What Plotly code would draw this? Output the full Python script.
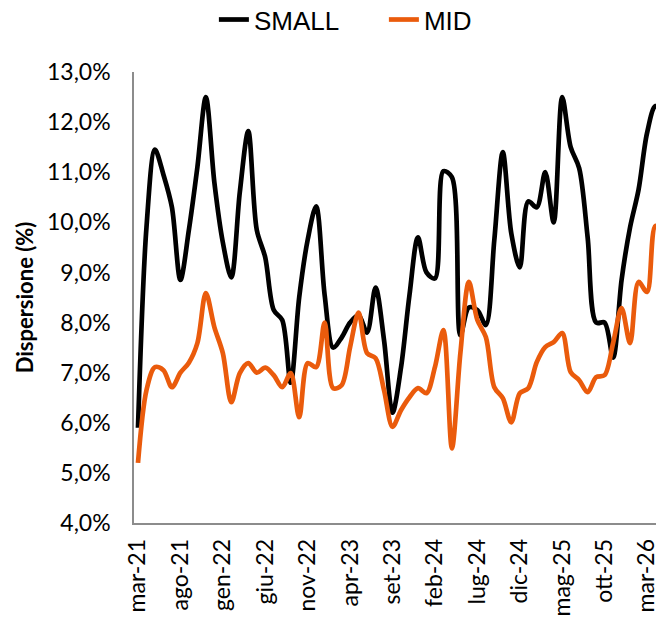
import plotly.graph_objects as go

# ---- data -------------------------------------------------------------
month_names = ["gen", "feb", "mar", "apr", "mag", "giu",
               "lug", "ago", "set", "ott", "nov", "dic"]
months = []
for yr in range(21, 27):
    for mi, mn in enumerate(month_names):
        if (yr == 21 and mi < 2) or (yr == 26 and mi > 4):
            continue
        months.append(f"{mn}-{yr}")

small = [5.9, 9.9, 11.45, 10.95, 10.3, 8.85, 9.85, 11.1, 12.5, 10.8,
         9.6, 8.9, 10.6, 11.82, 9.85, 9.3, 8.25, 8.05, 6.8, 8.5,
         9.65, 10.32, 8.55, 7.5, 7.7, 8.0, 8.15, 7.8, 8.7, 7.65,
         6.2, 7.1, 8.55, 9.7, 9.0, 8.88, 11.02, 10.9, 7.75, 8.3,
         8.25, 7.95, 9.65, 11.4, 9.78, 9.1, 10.42, 10.3, 11.0, 10.0,
         12.5, 11.5, 11.08, 9.7, 8.0, 8.0, 7.3, 8.85, 9.9, 10.65,
         11.78, 12.32, 12.2]

mid = [5.2, 6.65, 7.11, 7.05, 6.71, 7.0, 7.2, 7.59, 8.59, 7.91,
       7.39, 6.41, 6.99, 7.19, 7.0, 7.1, 6.95, 6.71, 6.99, 6.11,
       7.19, 7.11, 8.0, 6.69, 6.75, 7.51, 8.2, 7.39, 7.29, 6.65,
       5.92, 6.25, 6.51, 6.69, 6.59, 7.11, 7.85, 5.49, 7.39, 8.81,
       8.05, 7.71, 6.71, 6.49, 6.01, 6.59, 6.69, 7.21, 7.51, 7.61,
       7.79, 7.01, 6.85, 6.61, 6.91, 6.95, 7.59, 8.29, 7.59, 8.81,
       8.61, 9.93, 9.8]

tick_labels = months[::5]
y_ticks = [4, 5, 6, 7, 8, 9, 10, 11, 12, 13]
y_tick_text = [f"{v:.1f}".replace(".", ",") + "%" for v in y_ticks]

# ---- figure -----------------------------------------------------------
fig = go.Figure()
fig.add_trace(go.Scatter(x=months, y=small, name="SMALL", mode="lines",
                         line=dict(color="#000000", width=4.7, shape="spline", smoothing=0.9)))
fig.add_trace(go.Scatter(x=months, y=mid, name="MID", mode="lines",
                         line=dict(color="#EA5B0C", width=4.7, shape="spline", smoothing=0.9)))

tick_font = dict(family="Lato, Carlito, Calibri, sans-serif", size=23, color="#000000")

# page body has an 8px default margin, so the figure is sized to fit the window
fig.update_layout(
    width=656, height=611,
    margin=dict(l=126, r=0, t=64, b=96),
    paper_bgcolor="white", plot_bgcolor="white",
    showlegend=True,
    legend=dict(orientation="h", xref="container", x=0.573, xanchor="center",
                yref="container", y=0.981, yanchor="middle",
                entrywidth=125, entrywidthmode="pixels",
                font=dict(family="Liberation Sans, Arial, sans-serif", size=26, color="#000000"),
                bgcolor="rgba(0,0,0,0)"),
    xaxis=dict(type="category", range=[-0.47, 62.0], automargin=False,
               tickmode="array", tickvals=tick_labels, ticktext=tick_labels,
               tickangle=-90, tickfont=tick_font, showgrid=False, zeroline=False,
               showline=True, linecolor="#8c8c8c", linewidth=1.5,
               ticks="", ticklabelstandoff=5),
    yaxis=dict(range=[4, 13], automargin=False, tickmode="array", tickvals=y_ticks,
               ticktext=y_tick_text, tickfont=tick_font,
               showgrid=False, zeroline=False, showline=True,
               linecolor="#8c8c8c", linewidth=1.5, ticks="", ticklabelstandoff=17,
               title=dict(text="<b>Dispersione (%)</b>", standoff=7,
                          font=dict(family="Lato, Carlito, Calibri, sans-serif", size=22, color="#000000"))),
)

fig.write_html("out.html")
